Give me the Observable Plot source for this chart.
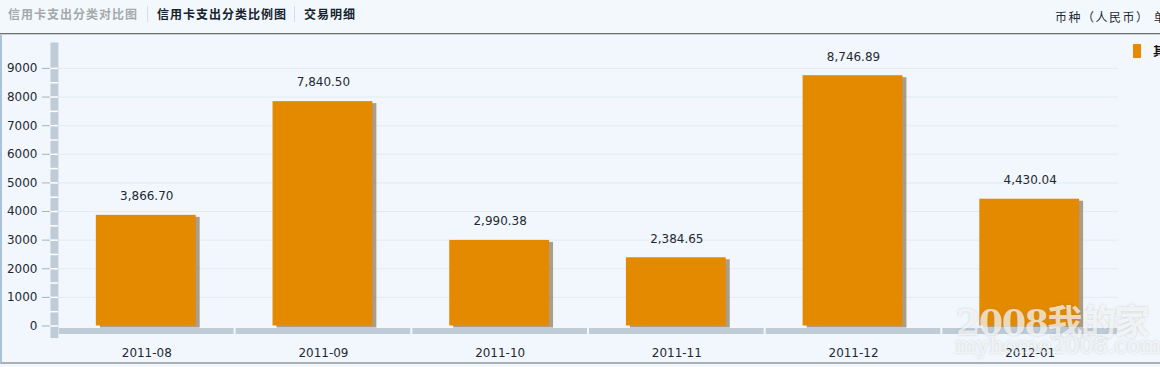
<!DOCTYPE html>
<html>
<head>
<meta charset="utf-8">
<script src="https://cdn.jsdelivr.net/npm/d3@7"></script>
<script src="https://cdn.jsdelivr.net/npm/@observablehq/plot@0.6"></script>
<style>
  html, body { margin: 0; padding: 0; }
  body { width: 1160px; height: 367px; overflow: hidden; position: relative; background: #F1F7FC; font-family: "DejaVu Sans", sans-serif; }
  #header { position: absolute; left: 0; top: 0; width: 1160px; height: 33px; border-bottom: 1px solid #6e6e6e; box-shadow: 0 1px 0 #c9cfd5; background: #F3F8FC; }
  .tab { position: absolute; top: 6px; font-family: "Noto Sans CJK SC", sans-serif; font-size: 12px; font-weight: bold; letter-spacing: 1px; line-height: 16px; white-space: nowrap; }
  .sep { position: absolute; top: 6px; width: 1px; height: 16px; background: #d6dde3; }
  #unit { position: absolute; top: 9px; left: 1055px; font-family: "Noto Sans CJK SC", sans-serif; font-size: 12px; letter-spacing: 1.5px; color: #1d2a35; white-space: nowrap; line-height: 16px; }
  #chart { position: absolute; left: 0; top: 35px; width: 1160px; height: 329px; border-left: 2px solid #A8C4DC; box-sizing: border-box; border-bottom: 2px solid #a9b0b6; }
  #chart svg { position: absolute; left: -2px; top: 0; }
  #legend { position: absolute; left: 1133px; top: 44px; white-space: nowrap; }
  #legend .sw { position: absolute; left: 0; top: 0; width: 8px; height: 14px; background: #E48A00; border-radius: 1px; box-shadow: 0 0 1px #f0c070; }
  #legend .lb { position: absolute; left: 20px; top: -2px; font-family: "Noto Sans CJK SC", sans-serif; font-size: 12px; font-weight: bold; color: #111; }
  #wm1 { position: absolute; left: 956px; top: 294px; font-family: "DejaVu Serif", "Noto Sans CJK SC", serif; font-size: 35px; font-weight: bold; color: rgba(255,255,255,0.7); text-shadow: 0 0 3px rgba(120,120,120,0.3); white-space: nowrap; letter-spacing: -1.5px; }
  #wm2 { position: absolute; left: 955px; top: 332px; font-family: "DejaVu Serif", serif; font-size: 23px; color: rgba(255,255,255,0.6); text-shadow: 0 0 3px rgba(120,120,120,0.3); white-space: nowrap; letter-spacing: -0.5px; }
</style>
</head>
<body>
<div id="header">
  <span class="tab" style="left:8px;color:#a3a9ad;">信用卡支出分类对比图</span>
  <span class="sep" style="left:147px;"></span>
  <span class="tab" style="left:157px;color:#15232e;">信用卡支出分类比例图</span>
  <span class="sep" style="left:294px;"></span>
  <span class="tab" style="left:304px;color:#15232e;">交易明细</span>
  <span id="unit">币种（人民币） 单位：元</span>
</div>
<div id="chart"></div>
<div id="legend"><span class="sw"></span><span class="lb">其他</span></div>
<div id="wm1">2008我的家</div>
<div id="wm2">myhome2008.com</div>
<script>
const months = ["2011-08", "2011-09", "2011-10", "2011-11", "2011-12", "2012-01"];
const amounts = [3866.70, 7840.50, 2990.38, 2384.65, 8746.89, 4430.04];
const yTicks = [0, 1000, 2000, 3000, 4000, 5000, 6000, 7000, 8000, 9000];
const yMinorTicks = [0, 500, 1000, 1500, 2000, 2500, 3000, 3500, 4000, 4500, 5000, 5500, 6000, 6500, 7000, 7500, 8000, 8500, 9000];

const data = months.map((m, i) => ({month: m, value: amounts[i]}));
const fmt = d3.format(",.2f");

const barColor = "#E48A00";
const axisGray = "#BFCCD7";

const chart = Plot.plot({
  width: 1160,
  height: 329,
  marginLeft: 58,
  marginRight: 40,
  marginTop: 33,
  marginBottom: 38,
  style: {background: "transparent", fontFamily: "DejaVu Sans, sans-serif", fontSize: "12px", color: "#222"},
  x: {domain: months, padding: 0, label: null},
  y: {domain: [0, 9000], label: null},
  marks: [
    Plot.ruleY(yTicks.filter(d => d > 0), {stroke: "#E2EBF3", strokeWidth: 1}),
    Plot.axisY({ticks: yTicks, tickSize: 16, tickPadding: 5, stroke: "#a9b3bb", fill: "#1e2a33", fontSize: 12, tickFormat: d => String(d)}),
    Plot.frame({anchor: "left", stroke: axisGray, strokeWidth: 8, dx: -4, insetTop: -22, insetBottom: -8}),
    Plot.axisY({ticks: yMinorTicks, tickSize: 8, stroke: "#ffffff", strokeWidth: 1.5, tickFormat: () => "", label: null}),
    Plot.tickY(months, {x: d => d, y: () => 0, stroke: axisGray, strokeWidth: 6, dy: 5, insetLeft: 1, insetRight: 1}),
    Plot.axisX({tickSize: 0, tickPadding: 23, fill: "#1e2a33", fontSize: 12, label: null}),
    Plot.barY(data, {x: "month", y: "value", fill: "#7a6040", fillOpacity: 0.6, insetLeft: 40, insetRight: 37, dx: 2, dy: 2}),
    Plot.barY(data, {x: "month", y: "value", fill: barColor, insetLeft: 38, insetRight: 39}),
    Plot.text(data, {x: "month", y: "value", text: d => fmt(d.value), dy: -19, fill: "#1e2a33", fontSize: 12})
  ]
});
document.getElementById("chart").appendChild(chart);
</script>
</body>
</html>
